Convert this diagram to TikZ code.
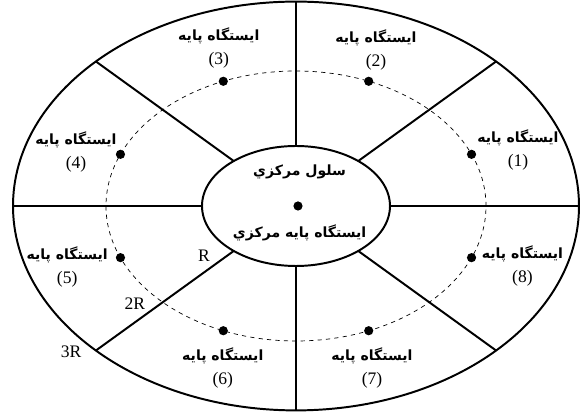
\documentclass[tikz,border=0pt]{standalone}
\usepackage{fontspec}
\setmainfont{Liberation Serif}
\newfontfamily\farsi[Script=Arabic]{DejaVu Sans}
\TeXXeTstate=1
\usetikzlibrary{positioning}
\newcommand{\fa}[1]{{\farsi\bfseries\beginR #1\endR}}

\begin{document}
\begin{tikzpicture}[
    wall/.style={line width=1.4pt},
    orbit/.style={dashed, dash pattern=on 3pt off 3pt, line width=0.5pt},
    station/.style={circle, fill=black, inner sep=0pt, minimum size=0.23cm},
    bslabel/.style={align=center, font=\fontsize{10}{17}\selectfont, inner sep=0pt},
    rlabel/.style={font=\fontsize{12.5}{14}\selectfont, inner sep=0pt}
]
\useasboundingbox (-7.4,-5.25) rectangle (7.2,5.15);

\draw[orbit] (0,0) ellipse (4.75 and 3.375);

% spokes between the cells
\foreach \a in {0,45,...,315}
    \draw[wall] (0,0) -- ({7.075*cos(\a)},{5.11*sin(\a)});

\draw[wall, fill=white] (0,0) ellipse (2.35 and 1.5);
\draw[wall] (0,0) ellipse (7.075 and 5.11);

% base stations on the 2R ring
\foreach \a/\n in {22.5/1, 67.5/2, 112.5/3, 157.5/4, 202.5/5, 247.5/6, 292.5/7, 337.5/8}
    \node[station] (bs\n) at ({4.75*cos(\a)},{3.375*sin(\a)}) {};
\node[station] (bs0) at (0.05,0) {};

\foreach \p/\n in {{(5.55,1.40)}/1, {(2.00,3.90)}/2, {(-1.93,3.95)}/3, {(-5.50,1.36)}/4,
                   {(-5.72,-1.53)}/5, {(-1.83,-4.05)}/6, {(1.90,-4.05)}/7, {(5.66,-1.50)}/8}
    \node[bslabel] (lb\n) at \p {\fa{ایستگاه پایه}\\{\fontsize{12.5}{17}\selectfont(\n)}};

\node[bslabel] (cell) at (0.09,0.86) {\fa{سلول مرکزي}};
\node[bslabel] (center) at (0.09,-0.68) {\fa{ایستگاه پایه مرکزي}};

\node[rlabel] (r1) at (-2.3,-1.25) {R};
\node[rlabel] (r2) at (-4.03,-2.43) {2R};
\node[rlabel] (r3) at (-5.62,-3.64) {3R};
\end{tikzpicture}
\end{document}
